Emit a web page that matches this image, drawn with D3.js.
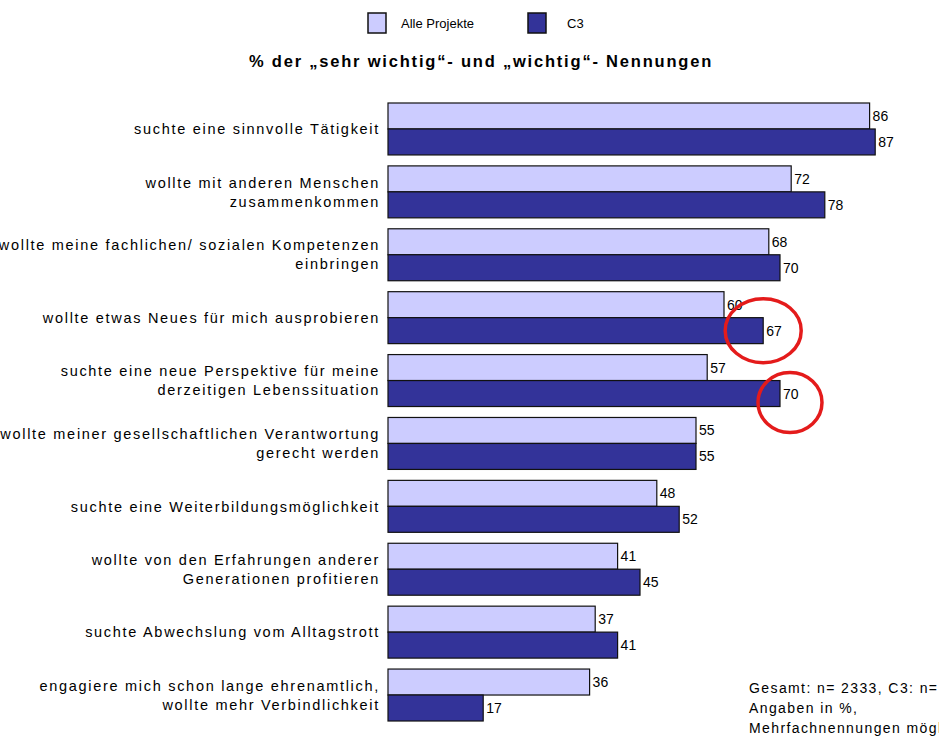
<!DOCTYPE html>
<html><head><meta charset="utf-8">
<script src="https://cdn.jsdelivr.net/npm/d3@7"></script>
<style>
html,body{margin:0;padding:0;background:#fff;overflow:hidden}
svg{display:block}
text{font-family:"Liberation Sans",Arial,sans-serif;fill:#000}
</style></head><body>
<script>
const categories = [
  ["suchte eine sinnvolle Tätigkeit"],
  ["wollte mit anderen Menschen","zusammenkommen"],
  ["wollte meine fachlichen/ sozialen Kompetenzen","einbringen"],
  ["wollte etwas Neues für mich ausprobieren"],
  ["suchte eine neue Perspektive für meine","derzeitigen Lebenssituation"],
  ["wollte meiner gesellschaftlichen Verantwortung","gerecht werden"],
  ["suchte eine Weiterbildungsmöglichkeit"],
  ["wollte von den Erfahrungen anderer","Generationen profitieren"],
  ["suchte Abwechslung vom Alltagstrott"],
  ["engagiere mich schon lange ehrenamtlich,","wollte mehr Verbindlichkeit"]
];
const alleProjekte = [86,72,68,60,57,55,48,41,37,36];
const c3 = [87,78,70,67,70,55,52,45,41,17];
const seriesNames = ["Alle Projekte","C3"];
const seriesColors = ["#ccccff","#333399"];
const title = "% der „sehr wichtig“- und „wichtig“- Nennungen";
const footnote = ["Gesamt: n= 2333, C3: n=","Angaben in %,","Mehrfachnennungen möglich"];

const W=939,H=741;
const svg=d3.select("body").append("svg").attr("width",W).attr("height",H);

const x=d3.scaleLinear().domain([0,100]).range([388,388+560]);
const y0=d3.scaleBand().domain(d3.range(categories.length)).range([103,721]).paddingInner(0.174).paddingOuter(0);
const y1=d3.scaleBand().domain([0,1]).range([0,y0.bandwidth()]);

const series=[alleProjekte,c3];
const g=svg.append("g");
categories.forEach((lines,i)=>{
  const gy=y0(i);
  series.forEach((vals,s)=>{
    g.append("rect").attr("x",x(0)).attr("y",gy+y1(s)).attr("width",x(vals[i])-x(0)).attr("height",y1.bandwidth())
      .attr("fill",seriesColors[s]).attr("stroke","#111").attr("stroke-width",1.2);
    g.append("text").attr("x",x(vals[i])+3).attr("y",gy+y1(s)+y1.bandwidth()/2).attr("dy","0.36em")
      .attr("font-size",14).text(vals[i]);
  });
  const cy=gy+y0.bandwidth()/2;
  const t=g.append("text").attr("text-anchor","end").attr("font-size",14.5).attr("letter-spacing",1.7);
  lines.forEach((l,k)=>{
    t.append("tspan").attr("x",380).attr("y",cy+(k-(lines.length-1)/2)*19).attr("dy","0.36em").text(l);
  });
});

// red circle annotations
const circ=[{i:3,dx:0,dy:0,rx:38,ry:32},{i:4,dx:10,dy:9,rx:32,ry:30}];
circ.forEach(c=>{
  svg.append("ellipse").attr("cx",x(c3[c.i])+c.dx).attr("cy",y0(c.i)+y1(1)+y1.bandwidth()/2+c.dy)
    .attr("rx",c.rx).attr("ry",c.ry).attr("fill","none").attr("stroke","#e41b1b").attr("stroke-width",3.5);
});

// legend
const leg=[{x:368,tx:401},{x:528,tx:567}];
seriesNames.forEach((n,s)=>{
  svg.append("rect").attr("x",leg[s].x).attr("y",13).attr("width",18).attr("height",20)
    .attr("fill",seriesColors[s]).attr("stroke","#111").attr("stroke-width",1.5);
  svg.append("text").attr("x",leg[s].tx).attr("y",23).attr("dy","0.36em").attr("font-size",13).text(n);
});
svg.append("text").attr("x",481).attr("y",67).attr("text-anchor","middle").attr("font-size",16.5)
  .attr("font-weight","bold").attr("letter-spacing",1.8).text(title);

footnote.forEach((f,k)=>{
  svg.append("text").attr("x",749).attr("y",688+k*20).attr("dy","0.36em").attr("font-size",14)
    .attr("letter-spacing",1.4).text(f);
});
</script>
</body></html>
